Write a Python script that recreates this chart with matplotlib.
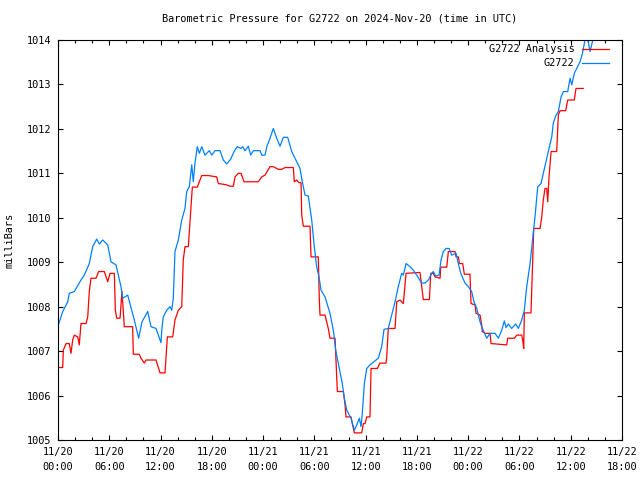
import numpy as np
import matplotlib
matplotlib.use("Agg")
import matplotlib.pyplot as plt
from matplotlib.ticker import MultipleLocator

# hours since 2024-11-20 00:00 UTC, pressure in mbar
obs_hours = [0.08, 0.55, 1.14, 1.32, 1.91, 2.69, 3.08, 3.66, 4.06, 4.53, 4.83, 5.23, 5.82,
             6.20, 6.79, 7.37, 7.57, 8.16, 8.93, 9.44, 9.83, 10.50, 10.88, 11.47, 12.05,
             12.14, 12.32, 12.72, 13.11, 13.31, 13.49, 13.69, 14.08, 14.48, 14.86, 15.06,
             15.37, 15.65, 15.83, 16.03, 16.30, 16.54, 16.82, 17.20, 17.71, 17.99, 18.37,
             18.96, 19.34, 19.74, 20.21, 20.60, 20.98, 21.38, 21.62, 21.88, 22.27, 22.55,
             22.86, 23.64, 23.84, 24.22, 24.49, 24.61, 25.20, 25.59, 25.98, 26.37, 26.88,
             27.35, 27.93, 28.32, 28.59, 28.91, 29.29, 29.69, 29.99, 30.27, 30.54, 30.78,
             31.25, 31.83, 32.22, 32.50, 32.88, 33.27, 33.51, 33.79, 34.29, 34.68, 34.96,
             35.26, 35.46, 35.61, 35.85, 36.13, 36.51, 37.48, 37.88, 38.15, 38.65, 39.05,
             39.44, 39.82, 40.22, 40.41, 40.73, 41.19, 41.58, 42.05, 42.56, 42.95, 43.34,
             43.73, 43.92, 44.20, 44.59, 44.82, 45.09, 45.41, 45.76, 46.07, 46.58, 46.85,
             47.13, 47.63, 48.02, 48.41, 48.68, 49.00, 49.39, 49.58, 49.97, 50.17, 50.56,
             51.14, 51.53, 51.93, 52.23, 52.43, 52.70, 53.09, 53.56, 53.87, 54.27, 54.57,
             54.85, 55.24, 55.62, 55.82, 56.14, 56.52, 56.79, 57.19, 57.46, 57.78, 57.96,
             58.24, 58.55, 58.87, 59.14, 59.65, 59.92, 60.12, 60.42, 60.70, 61.09, 61.36,
             61.67, 61.91, 62.26, 62.65, 62.84]
obs_mbar = [1007.61, 1007.89, 1008.11, 1008.30, 1008.34, 1008.60, 1008.71, 1008.97, 1009.35,
            1009.52, 1009.41, 1009.50, 1009.39, 1009.01, 1008.94, 1008.45, 1008.19, 1008.26,
            1007.70, 1007.29, 1007.66, 1007.89, 1007.55, 1007.51, 1007.19, 1007.47, 1007.77,
            1007.92, 1008.00, 1007.92, 1008.19, 1009.24, 1009.50, 1009.95, 1010.21, 1010.59,
            1010.70, 1011.19, 1010.81, 1011.23, 1011.60, 1011.45, 1011.60, 1011.41, 1011.51,
            1011.41, 1011.51, 1011.51, 1011.30, 1011.21, 1011.32, 1011.49, 1011.60, 1011.56,
            1011.60, 1011.51, 1011.61, 1011.41, 1011.51, 1011.51, 1011.41, 1011.41, 1011.64,
            1011.68, 1012.01, 1011.79, 1011.61, 1011.81, 1011.81, 1011.49, 1011.26, 1011.11,
            1010.81, 1010.51, 1010.49, 1009.95, 1009.35, 1008.90, 1008.67, 1008.37, 1008.22,
            1007.85, 1007.47, 1007.02, 1006.65, 1006.27, 1005.94, 1005.67, 1005.49, 1005.22,
            1005.34, 1005.49, 1005.30, 1005.60, 1006.27, 1006.61, 1006.69, 1006.84, 1007.10,
            1007.49, 1007.51, 1007.81, 1008.11, 1008.45, 1008.75, 1008.71, 1008.97, 1008.90,
            1008.82, 1008.69, 1008.53, 1008.53, 1008.60, 1008.75, 1008.79, 1008.69, 1008.71,
            1009.05, 1009.24, 1009.31, 1009.31, 1009.16, 1009.20, 1008.97, 1008.75, 1008.53,
            1008.45, 1008.34, 1008.11, 1007.96, 1007.66, 1007.55, 1007.38, 1007.29, 1007.40,
            1007.40, 1007.29, 1007.47, 1007.68, 1007.53, 1007.61, 1007.51, 1007.61, 1007.51,
            1007.70, 1007.92, 1008.45, 1008.97, 1009.65, 1010.02, 1010.70, 1010.77, 1011.00,
            1011.34, 1011.56, 1011.82, 1012.13, 1012.29, 1012.39, 1012.72, 1012.84, 1012.84,
            1013.14, 1012.99, 1013.25, 1013.36, 1013.51, 1013.69, 1014.00, 1014.10, 1013.74,
            1014.05, 1014.15]

ana_hours = [0.08, 0.55, 0.62, 0.94, 1.32, 1.52, 1.72, 1.91, 2.31, 2.49, 2.69, 3.28, 3.48,
             3.66, 3.86, 4.45, 4.76, 5.42, 5.82, 6.09, 6.59, 6.71, 6.87, 7.26, 7.49, 7.76,
             8.74, 8.81, 9.51, 9.71, 10.10, 10.30, 11.47, 11.94, 12.52, 12.80, 13.42, 13.69,
             14.08, 14.48, 14.66, 14.86, 15.25, 15.53, 15.72, 16.30, 16.54, 16.82, 17.59,
             18.57, 18.76, 19.16, 19.74, 20.13, 20.52, 20.71, 21.10, 21.42, 21.77, 23.44,
             23.84, 24.22, 24.81, 25.20, 25.78, 26.17, 26.56, 27.54, 27.65, 27.93, 28.20,
             28.44, 28.52, 28.71, 29.49, 29.61, 30.46, 30.58, 30.66, 31.25, 31.63, 31.83,
             32.42, 32.62, 32.69, 33.39, 33.59, 33.70, 34.29, 34.44, 34.68, 35.54, 35.73,
             35.93, 36.13, 36.51, 36.63, 37.37, 37.67, 38.38, 38.46, 38.65, 39.44, 39.64,
             40.02, 40.41, 40.73, 42.36, 42.63, 42.75, 43.46, 43.62, 43.92, 44.12, 44.71,
             44.79, 45.49, 45.68, 46.46, 46.58, 46.85, 46.97, 47.36, 47.55, 48.21, 48.33,
             48.80, 48.92, 49.39, 49.58, 49.65, 49.97, 50.56, 50.67, 52.51, 52.63, 53.41,
             53.69, 54.27, 54.38, 54.50, 54.57, 55.35, 55.51, 55.67, 56.41, 56.61, 56.79,
             56.99, 57.19, 57.31, 57.46, 57.70, 58.36, 58.55, 58.75, 59.41, 59.65, 60.42,
             60.62, 61.47]
ana_mbar = [1006.63, 1006.63, 1007.02, 1007.17, 1007.17, 1006.95, 1007.25, 1007.36, 1007.32,
            1007.14, 1007.62, 1007.62, 1007.77, 1008.34, 1008.64, 1008.64, 1008.79, 1008.79,
            1008.56, 1008.75, 1008.75, 1007.92, 1007.74, 1007.74, 1008.34, 1007.55, 1007.55,
            1006.93, 1006.93, 1006.84, 1006.73, 1006.80, 1006.80, 1006.51, 1006.51, 1007.32,
            1007.32, 1007.70, 1007.92, 1008.00, 1009.05, 1009.35, 1009.35, 1010.17, 1010.69,
            1010.69, 1010.81, 1010.95, 1010.95, 1010.92, 1010.77, 1010.76, 1010.74, 1010.71,
            1010.71, 1010.92, 1011.00, 1011.00, 1010.81, 1010.81, 1010.92, 1010.96, 1011.15,
            1011.15, 1011.09, 1011.09, 1011.13, 1011.13, 1010.81, 1010.85, 1010.79, 1010.79,
            1010.06, 1009.81, 1009.81, 1009.12, 1009.12, 1008.15, 1007.81, 1007.81, 1007.51,
            1007.29, 1007.29, 1006.42, 1006.09, 1006.09, 1005.79, 1005.52, 1005.52, 1005.37,
            1005.16, 1005.16, 1005.37, 1005.37, 1005.52, 1005.52, 1006.61, 1006.61, 1006.73,
            1006.73, 1006.84, 1007.51, 1007.51, 1008.11, 1008.15, 1008.07, 1008.75, 1008.77,
            1008.34, 1008.16, 1008.16, 1008.75, 1008.75, 1008.67, 1008.64, 1008.89, 1008.89,
            1009.24, 1009.24, 1009.12, 1009.12, 1008.97, 1008.97, 1008.73, 1008.73, 1008.07,
            1008.04, 1007.85, 1007.81, 1007.59, 1007.44, 1007.40, 1007.40, 1007.17, 1007.14,
            1007.29, 1007.29, 1007.36, 1007.36, 1007.25, 1007.06, 1007.86, 1007.86, 1008.82,
            1009.76, 1009.76, 1010.02, 1010.40, 1010.66, 1010.66, 1010.36, 1010.92, 1011.49,
            1011.49, 1012.31, 1012.41, 1012.41, 1012.65, 1012.65, 1012.91, 1012.91]

tick_hours = list(range(0, 67, 6))
tick_labels = ["11/20\n00:00", "11/20\n06:00", "11/20\n12:00", "11/20\n18:00",
               "11/21\n00:00", "11/21\n06:00", "11/21\n12:00", "11/21\n18:00",
               "11/22\n00:00", "11/22\n06:00", "11/22\n12:00", "11/22\n18:00"]

plt.rcParams['font.family'] = ['DejaVu Sans Mono']
plt.rcParams['font.size'] = 7.4

fig = plt.figure(figsize=(6.4, 4.8), dpi=100)
ax = fig.add_axes([58 / 640, 40 / 480, 564 / 640, 400 / 480])

ax.plot(ana_hours, ana_mbar, color='#ff0000', lw=0.9, label="G2722 Analysis")
ax.plot(obs_hours, obs_mbar, color='#0080ff', lw=0.9, label="G2722")

ax.set_xlim(0, 66)
ax.set_ylim(1005, 1014)
ax.set_xticks(tick_hours)
ax.set_xticklabels(tick_labels, linespacing=1.6)
ax.xaxis.set_minor_locator(MultipleLocator(2))
ax.set_yticks(np.arange(1005, 1015, 1))
ax.tick_params(which='both', direction='in', top=True, right=True, width=0.8)
ax.tick_params(which='major', length=3.5, pad=5)
ax.tick_params(which='minor', length=2)
for s in ax.spines.values():
    s.set_linewidth(0.8)

ax.set_ylabel("milliBars", labelpad=9)
ax.set_title("Barometric Pressure for G2722 on 2024-Nov-20 (time in UTC)",
             fontsize=7.4, pad=13)

ax.legend(loc='upper right', frameon=False, markerfirst=False, handlelength=2.7,
          handletextpad=0.7, labelspacing=0.4, borderaxespad=0.1, borderpad=0.3,
          bbox_to_anchor=(0.985, 1.0))

fig.savefig("out.png", dpi=100)
